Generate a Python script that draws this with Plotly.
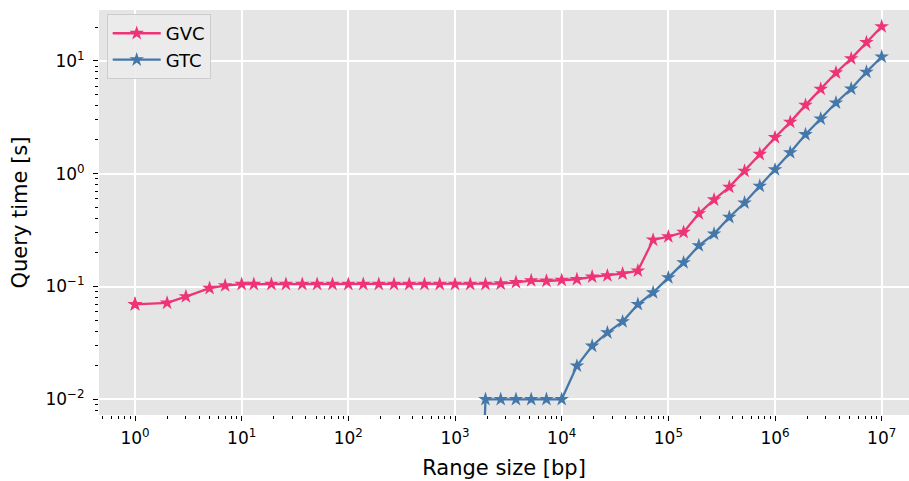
import plotly.graph_objects as go

# Range sizes (integer log-spaced grid, 1 .. 1e7)
range_bp = [1, 1, 1, 2, 3, 5, 7, 10, 13, 19, 26, 37, 51, 71, 100, 138, 193, 268, 372, 517, 719,
            1000, 1389, 1930, 2682, 3727, 5179, 7196, 10000, 13894, 19306, 26826, 37275, 51794,
            71968, 100000, 138949, 193069, 268269, 372759, 517947, 719685, 1000000, 1389495,
            1930697, 2682695, 3727593, 5179474, 7196856, 10000000]

gvc_time = [0.0696, 0.0696, 0.0696, 0.0716, 0.0815, 0.0966, 0.102, 0.105, 0.105, 0.105, 0.105,
            0.105, 0.105, 0.105, 0.105, 0.105, 0.105, 0.105, 0.105, 0.105, 0.105, 0.105, 0.105,
            0.105, 0.106, 0.109, 0.113, 0.112, 0.114, 0.116, 0.122, 0.125, 0.130, 0.138,
            0.259, 0.277, 0.303, 0.444, 0.589, 0.762, 1.057, 1.49, 2.10, 2.87, 4.06, 5.64,
            7.87, 10.5, 14.6, 20.2]

# GTC: not measured for small ranges (None); 0 at 1389 bp (drawn clipped to the bottom)
gtc_time = [None] * 22 + [0, 0.01, 0.01, 0.01, 0.01, 0.01, 0.01, 0.0198, 0.0297, 0.039, 0.0489,
                          0.0696, 0.0885, 0.120, 0.163, 0.231, 0.293, 0.412, 0.553, 0.778,
                          1.088, 1.54, 2.23, 3.07, 4.26, 5.67, 7.98, 10.9]

x_tick_exp = [0, 1, 2, 3, 4, 5, 6, 7]
y_tick_exp = [-2, -1, 0, 1]

COL_GVC = "#EE3377"
COL_GTC = "#4477AA"
FONT = "DejaVu Sans"

# log axis: zero cannot be shown, push it far below the visible range
gtc_plot = [None if v is None else (1e-6 if v == 0 else v) for v in gtc_time]

fig = go.Figure()
fig.add_trace(go.Scatter(x=range_bp, y=gvc_time, name="GVC", mode="lines+markers",
                         line=dict(color=COL_GVC, width=2.3),
                         marker=dict(symbol="star", size=11, color=COL_GVC)))
fig.add_trace(go.Scatter(x=range_bp, y=gtc_plot, name="GTC", mode="lines+markers",
                         connectgaps=False,
                         line=dict(color=COL_GTC, width=2.3),
                         marker=dict(symbol="star", size=11, color=COL_GTC)))


def tick_text(e):
    s = str(e).replace("-", "\u2212")
    return f"10<sup>{s}</sup>"


def minor_vals(lo, hi):
    return [m * 10.0 ** k for k in range(lo, hi) for m in range(2, 10)]


axis_common = dict(
    type="log",
    showgrid=True, gridcolor="white", gridwidth=1.5,
    zeroline=False, showline=False,
    ticks="outside", ticklen=5, tickwidth=1.4, tickcolor="black",
    tickfont=dict(family=FONT, size=17, color="black"),
)

fig.update_xaxes(
    **axis_common,
    range=[-0.3375, 7.256],
    tickmode="array",
    tickvals=[10.0 ** e for e in x_tick_exp],
    ticktext=[tick_text(e) for e in x_tick_exp],
    ticklabelstandoff=3,
    minor=dict(tickmode="array", tickvals=minor_vals(-1, 8), ticks="outside",
               ticklen=3, tickwidth=1.4, tickcolor="black", showgrid=False),
    title=dict(text="Range size [bp]", font=dict(family=FONT, size=21, color="black"),
               standoff=12),
)
fig.update_yaxes(
    **axis_common,
    range=[-2.139, 1.452],
    tickmode="array",
    tickvals=[10.0 ** e for e in y_tick_exp],
    ticktext=[tick_text(e) for e in y_tick_exp],
    ticklabelstandoff=5,
    minor=dict(tickmode="array", tickvals=minor_vals(-3, 2), ticks="outside",
               ticklen=3, tickwidth=1.4, tickcolor="black", showgrid=False),
    title=dict(text="Query time [s]", font=dict(family=FONT, size=21, color="black"),
               standoff=12),
)

fig.update_layout(
    width=909, height=481,
    margin=dict(l=99, r=0, t=10, b=66),
    paper_bgcolor="white", plot_bgcolor="#E5E5E5",
    font=dict(family=FONT, color="black"),
    legend=dict(x=0.0095, y=0.99, xanchor="left", yanchor="top",
                bgcolor="rgba(235,235,235,0.9)", bordercolor="#cccccc", borderwidth=1,
                font=dict(family=FONT, size=18, color="black"),
                itemwidth=48),
    showlegend=True,
)

fig.write_html("out.html")
